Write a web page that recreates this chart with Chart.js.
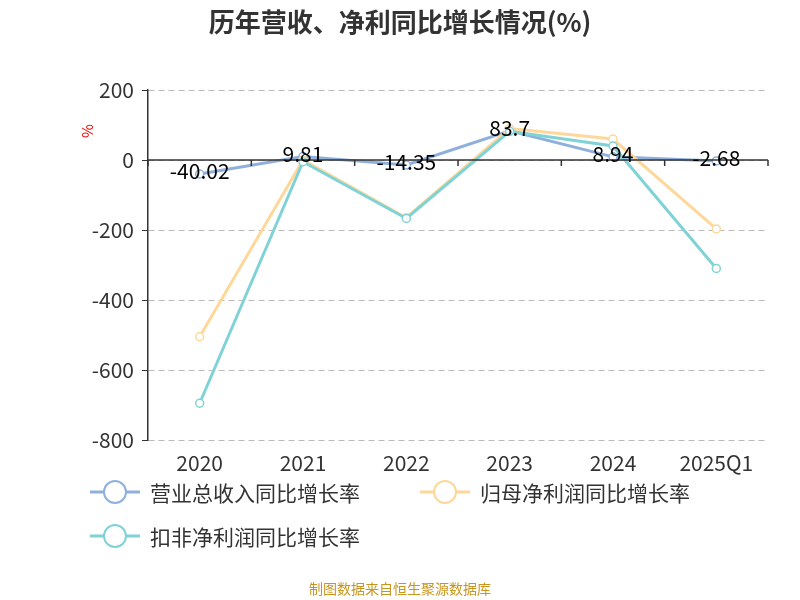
<!DOCTYPE html>
<html><head><meta charset="utf-8">
<script src="https://cdn.jsdelivr.net/npm/chart.js@4"></script>
<style>body{margin:0;background:#fff}#wrap{width:800px;height:600px}</style>
</head><body><div id="wrap"><canvas id="c" width="800" height="600"></canvas></div>
<script>
const categories = ["2020", "2021", "2022", "2023", "2024", "2025Q1"];
const revenueGrowth = [-40.02, 9.81, -14.35, 83.7, 8.94, -2.68];
const netProfitGrowth = [-505, 0, -165, 90, 60, -197];
const deductedProfitGrowth = [-695, -5, -167, 82, 40, -310];
const seriesNames = ["营业总收入同比增长率", "归母净利润同比增长率", "扣非净利润同比增长率"];
const colors = ["#8fb0dc", "#fdd89a", "#7fd3d6"];

const FONT = "'Noto Sans CJK SC', 'Noto Sans', sans-serif";

const decor = {
  id: 'decor',
  afterDraw(chart) {
    const ctx = chart.ctx, a = chart.chartArea, y = chart.scales.y;
    ctx.save();
    ctx.fillStyle = '#333'; ctx.font = 'bold 26px ' + FONT;
    ctx.textAlign = 'center'; ctx.textBaseline = 'middle';
    ctx.fillText('历年营收、净利同比增长情况(%)', 400, 22);
    ctx.save(); ctx.translate(87, 131); ctx.rotate(-Math.PI / 2);
    ctx.fillStyle = '#e00'; ctx.font = '15px ' + FONT; ctx.fillText('%', 0, 0); ctx.restore();
    const y0 = y.getPixelForValue(0);
    ctx.strokeStyle = '#333'; ctx.lineWidth = 1.5;
    ctx.beginPath(); ctx.moveTo(a.left, y0); ctx.lineTo(a.right, y0);
    for (let i = 0; i <= categories.length; i++) {
      const px = a.left + (a.right - a.left) * i / categories.length;
      ctx.moveTo(px, y0); ctx.lineTo(px, y0 + 6);
    }
    ctx.stroke();
    const idx = chart.data.datasets.findIndex(d => d.label === seriesNames[0]);
    const meta = chart.getDatasetMeta(idx);
    ctx.fillStyle = '#000'; ctx.font = '21px ' + FONT;
    meta.data.forEach((p, i) => ctx.fillText(String(revenueGrowth[i]), p.x, p.y - 3));
    const items = [[90, 492], [420, 492], [90, 536]];
    ctx.font = '21px ' + FONT; ctx.textAlign = 'left';
    items.forEach(([lx, ly], i) => {
      ctx.strokeStyle = colors[i]; ctx.lineWidth = 3;
      ctx.beginPath(); ctx.moveTo(lx, ly); ctx.lineTo(lx + 50, ly); ctx.stroke();
      ctx.fillStyle = '#fff'; ctx.lineWidth = 2;
      ctx.beginPath(); ctx.arc(lx + 25, ly, 11, 0, Math.PI * 2); ctx.fill(); ctx.stroke();
      ctx.fillStyle = '#333'; ctx.fillText(seriesNames[i], lx + 60, ly + 1);
    });
    ctx.fillStyle = '#c8961e'; ctx.font = '14px ' + FONT; ctx.textAlign = 'center';
    ctx.fillText('制图数据来自恒生聚源数据库', 400, 589);
    ctx.restore();
  }
};

const mk = (label, data, c) => ({
  label, data, borderColor: c, backgroundColor: '#fff', borderWidth: 3,
  pointRadius: 4, pointBorderWidth: 1.5, pointBorderColor: c, pointBackgroundColor: '#fff', tension: 0
});

new Chart(document.getElementById('c'), {
  type: 'line',
  data: {
    labels: categories,
    datasets: [
      mk(seriesNames[0], revenueGrowth, colors[0]),
      mk(seriesNames[1], netProfitGrowth, colors[1]),
      mk(seriesNames[2], deductedProfitGrowth, colors[2])
    ].reverse()
  },
  options: {
    responsive: false, animation: false,
    layout: { padding: { top: 90, left: 0, right: 32, bottom: 110 } },
    plugins: { legend: { display: false }, tooltip: { enabled: false } },
    scales: {
      x: {
        offset: true,
        grid: { display: false, drawTicks: false },
        border: { display: false },
        ticks: { color: '#333', font: { size: 21, family: FONT }, padding: 10, maxRotation: 0 },
        afterFit(s) { s.height = 50; }
      },
      y: {
        min: -800, max: 200,
        ticks: { stepSize: 200, color: '#333', font: { size: 21, family: FONT }, padding: 8 },
        grid: { color: '#bbb', tickColor: '#333', tickLength: 6, drawOnChartArea: true },
        border: { display: true, color: '#333', width: 1.5, dash: [6, 4] },
        afterFit(s) { s.width = 148; }
      }
    }
  },
  plugins: [decor]
});
</script></body></html>
